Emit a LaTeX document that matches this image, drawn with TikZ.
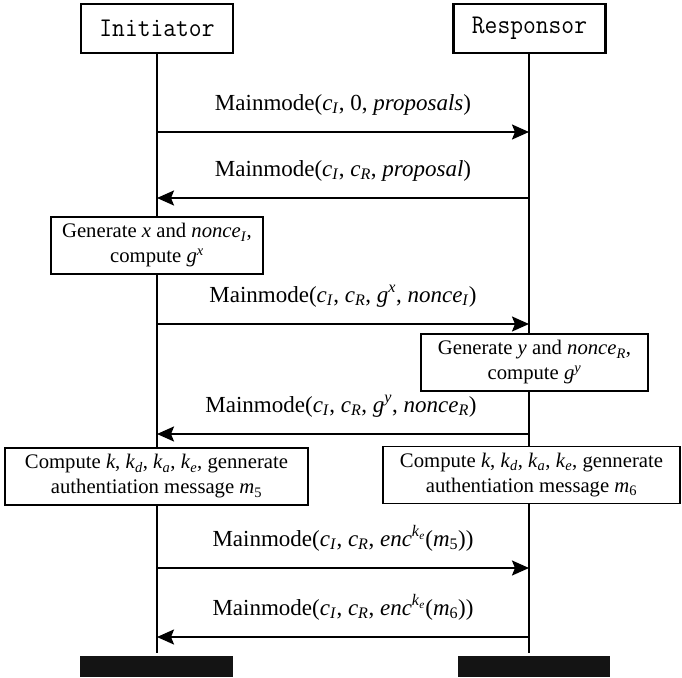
\documentclass[tikz,border=0pt]{standalone}
\usepackage{graphicx}
\usepackage{fontspec}
\setmainfont{Liberation Serif}
\usetikzlibrary{arrows.meta}
\newcommand{\itx}[1]{\textit{#1}}
\newcommand{\sbI}[1]{\textsubscript{\textit{#1}}}
\newcommand{\sbN}[1]{\textsubscript{#1}}
\newcommand{\spI}[1]{\textsuperscript{\textit{#1}}}
\newcommand{\encke}{\textit{enc}\textsuperscript{\textit{k}\textsubscript{\textit{e}}}}
\newcommand{\actortext}[1]{\scalebox{0.92}[1]{#1}}
\tikzset{
  actor/.style={draw, line width=2.4pt, inner sep=0pt, minimum width=152pt, minimum height=49pt,
    font=\fontsize{27}{27}\ttfamily},
  lifeline/.style={line width=2.4pt},
  msg/.style={line width=2pt, -{Stealth[length=17pt,width=15pt,inset=3pt]}},
  msglabel/.style={anchor=base, yshift=22pt, font=\fontsize{23}{25}\selectfont, inner sep=0pt},
  actbox/.style={draw, line width=1.1pt, inner sep=0pt, minimum height=57pt, align=center,
    font=\fontsize{20.7}{25}\selectfont},
  endbar/.style={fill=black!92, inner sep=0pt, minimum width=152pt, minimum height=21pt}
}
\begin{document}
\begin{tikzpicture}[x=1pt,y=-1pt]
\useasboundingbox (0,0) rectangle (682,677);
% actors
\node[actor] (ini) at (157,28.5) {\actortext{Initiator}};
\node[actor] (res) at (529.5,28.5) {\actortext{Responsor}};
% end bars
\node[endbar, minimum width=153pt] (endI) at (156.5,666.5) {};
\node[endbar] (endR) at (534,666.5) {};
% lifeline end coordinates
\coordinate (iEnd) at (157,653);
\coordinate (rEnd) at (529,653);
\draw[lifeline] (ini.south) -- (iEnd);
\draw[lifeline] (res.south -| rEnd) -- (rEnd);
% message coordinates
\coordinate (i1) at (157,132); \coordinate (r1) at (529,132);
\coordinate (i2) at (157,198); \coordinate (r2) at (529,198);
\coordinate (i3) at (157,324); \coordinate (r3) at (529,324);
\coordinate (i4) at (157,434); \coordinate (r4) at (529,434);
\coordinate (i5) at (157,568); \coordinate (r5) at (529,568);
\coordinate (i6) at (157,637); \coordinate (r6) at (529,637);
% messages
\draw[msg] (i1) -- (r1) node[msglabel, midway] (l1) {Mainmode(\itx{c}\sbI{I}, 0, \itx{proposals})};
\draw[msg] (r2) -- (i2) node[msglabel, midway] (l2) {Mainmode(\itx{c}\sbI{I}, \itx{c}\sbI{R}, \itx{proposal})};
\draw[msg] (i3) -- (r3) node[msglabel, midway] (l3) {Mainmode(\itx{c}\sbI{I}, \itx{c}\sbI{R}, \itx{g}\spI{x}, \itx{nonce}\sbI{I})};
\draw[msg] (r4) -- (i4) node[msglabel, midway, xshift=-2pt] (l4) {Mainmode(\itx{c}\sbI{I}, \itx{c}\sbI{R}, \itx{g}\spI{y}, \itx{nonce}\sbI{R})};
\draw[msg] (i5) -- (r5) node[msglabel, midway] (l5) {Mainmode(\itx{c}\sbI{I}, \itx{c}\sbI{R}, \encke(\itx{m}\sbN{5}))};
\draw[msg] (r6) -- (i6) node[msglabel, midway] (l6) {Mainmode(\itx{c}\sbI{I}, \itx{c}\sbI{R}, \encke(\itx{m}\sbN{6}))};
% activity boxes
\node[actbox, fill=white, minimum width=212pt] (genI) at (157,245.5)
  {Generate \itx{x} and \itx{nonce}\sbI{I},\\ compute \itx{g}\spI{x}};
\node[actbox, fill=white, minimum width=227pt] (genR) at (534.5,362.5)
  {Generate \itx{y} and \itx{nonce}\sbI{R},\\ compute \itx{g}\spI{y}};
\node[actbox, fill=white, minimum width=303pt] (compI) at (156.5,476.5)
  {Compute \itx{k}, \itx{k}\sbI{d}, \itx{k}\sbI{a}, \itx{k}\sbI{e}, gennerate\\ authentiation message \itx{m}\sbN{5}};
\node[actbox, fill=white, minimum width=297pt] (compR) at (531.5,475)
  {Compute \itx{k}, \itx{k}\sbI{d}, \itx{k}\sbI{a}, \itx{k}\sbI{e}, gennerate\\ authentiation message \itx{m}\sbN{6}};
\end{tikzpicture}
\end{document}
